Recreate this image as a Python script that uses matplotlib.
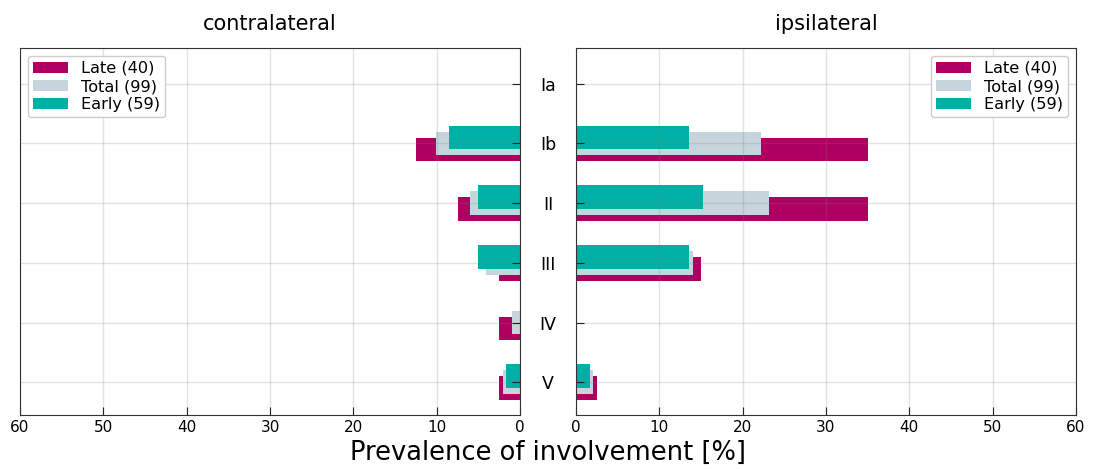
import numpy as np
import matplotlib.pyplot as plt

levels = ["Ia", "Ib", "II", "III", "IV", "V"]

# prevalence of involvement in percent, per lymph node level
contra_late = [0.0, 12.5, 7.5, 2.5, 2.5, 2.5]
contra_total = [0.0, 10.1, 6.06, 4.04, 1.01, 2.02]
contra_early = [0.0, 8.47, 5.08, 5.08, 0.0, 1.69]

ipsi_late = [0.0, 35.0, 35.0, 15.0, 0.0, 2.5]
ipsi_total = [0.0, 22.2, 23.2, 14.1, 0.0, 2.02]
ipsi_early = [0.0, 13.56, 15.25, 13.56, 0.0, 1.69]

labels = ["Late (40)", "Total (99)", "Early (59)"]
colors = ["#ae0060", "#c5d5db", "#00afa5"]

plt.rcParams['font.family'] = 'DejaVu Sans'
fig = plt.figure(figsize=(10.93, 4.69), dpi=100)
W, H = 1093, 469
ax_l = fig.add_axes([20 / W, (H - 415) / H, 500 / W, 367 / H])
ax_r = fig.add_axes([576 / W, (H - 415) / H, 500 / W, 367 / H])

y = np.arange(len(levels))
offsets = [0.1, 0.0, -0.1]

for ax, series in [(ax_l, [contra_late, contra_total, contra_early]),
                   (ax_r, [ipsi_late, ipsi_total, ipsi_early])]:
    for vals, off, c, lab in zip(series, offsets, colors, labels):
        ax.barh(y + off, vals, height=0.4, color=c, label=lab, zorder=2)
    ax.set_ylim(5.55, -0.6)
    ax.set_xticks(np.arange(0, 61, 10))
    # grid on top of the bars, faint
    ax.grid(True, color="gray", alpha=0.22, linewidth=1.0, zorder=3)
    ax.set_axisbelow(False)
    ax.tick_params(direction="in", labelsize=11, length=6, color="#222222")
    for s in ax.spines.values():
        s.set_color("#333333")
        s.set_zorder(4)

ax_l.set_xlim(60, 0)
ax_r.set_xlim(0, 60)

ax_l.set_yticks(y)
ax_l.yaxis.tick_right()
ax_l.tick_params(axis="y", labelright=False)

ax_r.set_yticks(y)
ax_r.set_yticklabels(levels, ha="center", fontsize=12.5)
ax_r.tick_params(axis="y", pad=20.2)

ax_l.set_title("contralateral", fontsize=15, pad=13)
ax_r.set_title("ipsilateral", fontsize=15, pad=13)

leg_kw = dict(fontsize=11.6, handlelength=2.2, labelspacing=0.2,
              borderpad=0.3, handletextpad=0.8, framealpha=1,
              edgecolor="#cccccc", fancybox=True)
leg = ax_l.legend(loc="upper left", **leg_kw)
leg.set_zorder(5)
leg = ax_r.legend(loc="upper right", **leg_kw)
leg.set_zorder(5)

fig.text(548 / W, 1 - 453 / H, "Prevalence of involvement [%]",
         ha="center", va="center", fontsize=18.5)

fig.savefig("out.png", dpi=100)
